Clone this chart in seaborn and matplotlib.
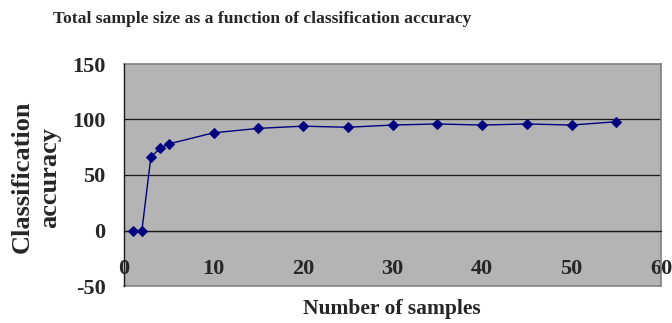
import matplotlib
matplotlib.use("Agg")
import matplotlib.pyplot as plt
import seaborn as sns
import pandas as pd

# Sample counts and the classification accuracy (%) reached at each
n_samples = [1, 2, 3, 4, 5, 10, 15, 20, 25, 30, 35, 40, 45, 50, 55]
accuracy = [0, 0, 66, 74, 78, 88, 92, 94, 93, 95, 96, 95, 96, 95, 98]

x_ticks = [0, 10, 20, 30, 40, 50, 60]
y_ticks = [-50, 0, 50, 100, 150]

title_text = "Total sample size as a function of classification accuracy"
x_label = "Number of samples"
y_label = "Classification\naccuracy"

sns.set_style("white", {"axes.facecolor": "#b4b4b4"})
plt.rcParams["font.family"] = ["Liberation Serif", "DejaVu Serif"]
plt.rcParams["font.weight"] = "bold"
plt.rcParams["axes.unicode_minus"] = False

df = pd.DataFrame({"samples": n_samples, "accuracy": accuracy})

fig = plt.figure(figsize=(6.72, 3.23), dpi=100)
ax = fig.add_axes([124 / 672, 1 - 286 / 323, 537 / 672, 222 / 323])

sns.lineplot(data=df, x="samples", y="accuracy", ax=ax, color="#000080",
             linewidth=1.0, marker="D", markersize=5,
             markerfacecolor="#000080", markeredgecolor="#000080", zorder=3)

ax.set_xlim(0, 60)
ax.set_ylim(-50, 150)
ax.set_xticks(x_ticks)
ax.set_yticks(y_ticks)

# horizontal gridlines at the major y values inside the plot area
for v in [0, 50, 100]:
    ax.axhline(v, color="#1a1a1a", linewidth=0.9, zorder=1)

# frame: gray border, black value axis, category axis crossing at zero
for side in ["top", "right"]:
    ax.spines[side].set_color("#808080")
    ax.spines[side].set_linewidth(1.2)
ax.spines["left"].set_color("#1a1a1a")
ax.spines["left"].set_linewidth(1.0)
ax.spines["left"].set_zorder(4)
ax.spines["bottom"].set_position(("data", 0))
ax.spines["bottom"].set_color("#1a1a1a")
ax.spines["bottom"].set_linewidth(0.9)
ax.plot([0, 1], [0, 0], transform=ax.transAxes, color="#808080",
        linewidth=1.2, clip_on=False, zorder=2)

ax.tick_params(axis="y", direction="out", length=4.3, width=1.0,
               color="#1a1a1a", pad=9, labelsize=16)
ax.tick_params(axis="x", direction="out", length=4.3, width=1.0,
               color="#1a1a1a", pad=16, labelsize=16)
for lab in ax.get_xticklabels() + ax.get_yticklabels():
    lab.set_fontweight("bold")

ax.set_xlabel("")
ax.set_ylabel("")

fig.text(262 / 672, 1 - 19 / 323, title_text, ha="center", va="center",
         fontsize=12.6, fontweight="bold")
fig.text(392 / 672, 1 - 309 / 323, x_label, ha="center", va="center",
         fontsize=15.5, fontweight="bold")
fig.text(36 / 672, 1 - 177 / 323, y_label, ha="center", va="center",
         rotation=90, fontsize=19, fontweight="bold", linespacing=1.2,
         multialignment="center")

fig.savefig("out.png", dpi=100, facecolor="white")
